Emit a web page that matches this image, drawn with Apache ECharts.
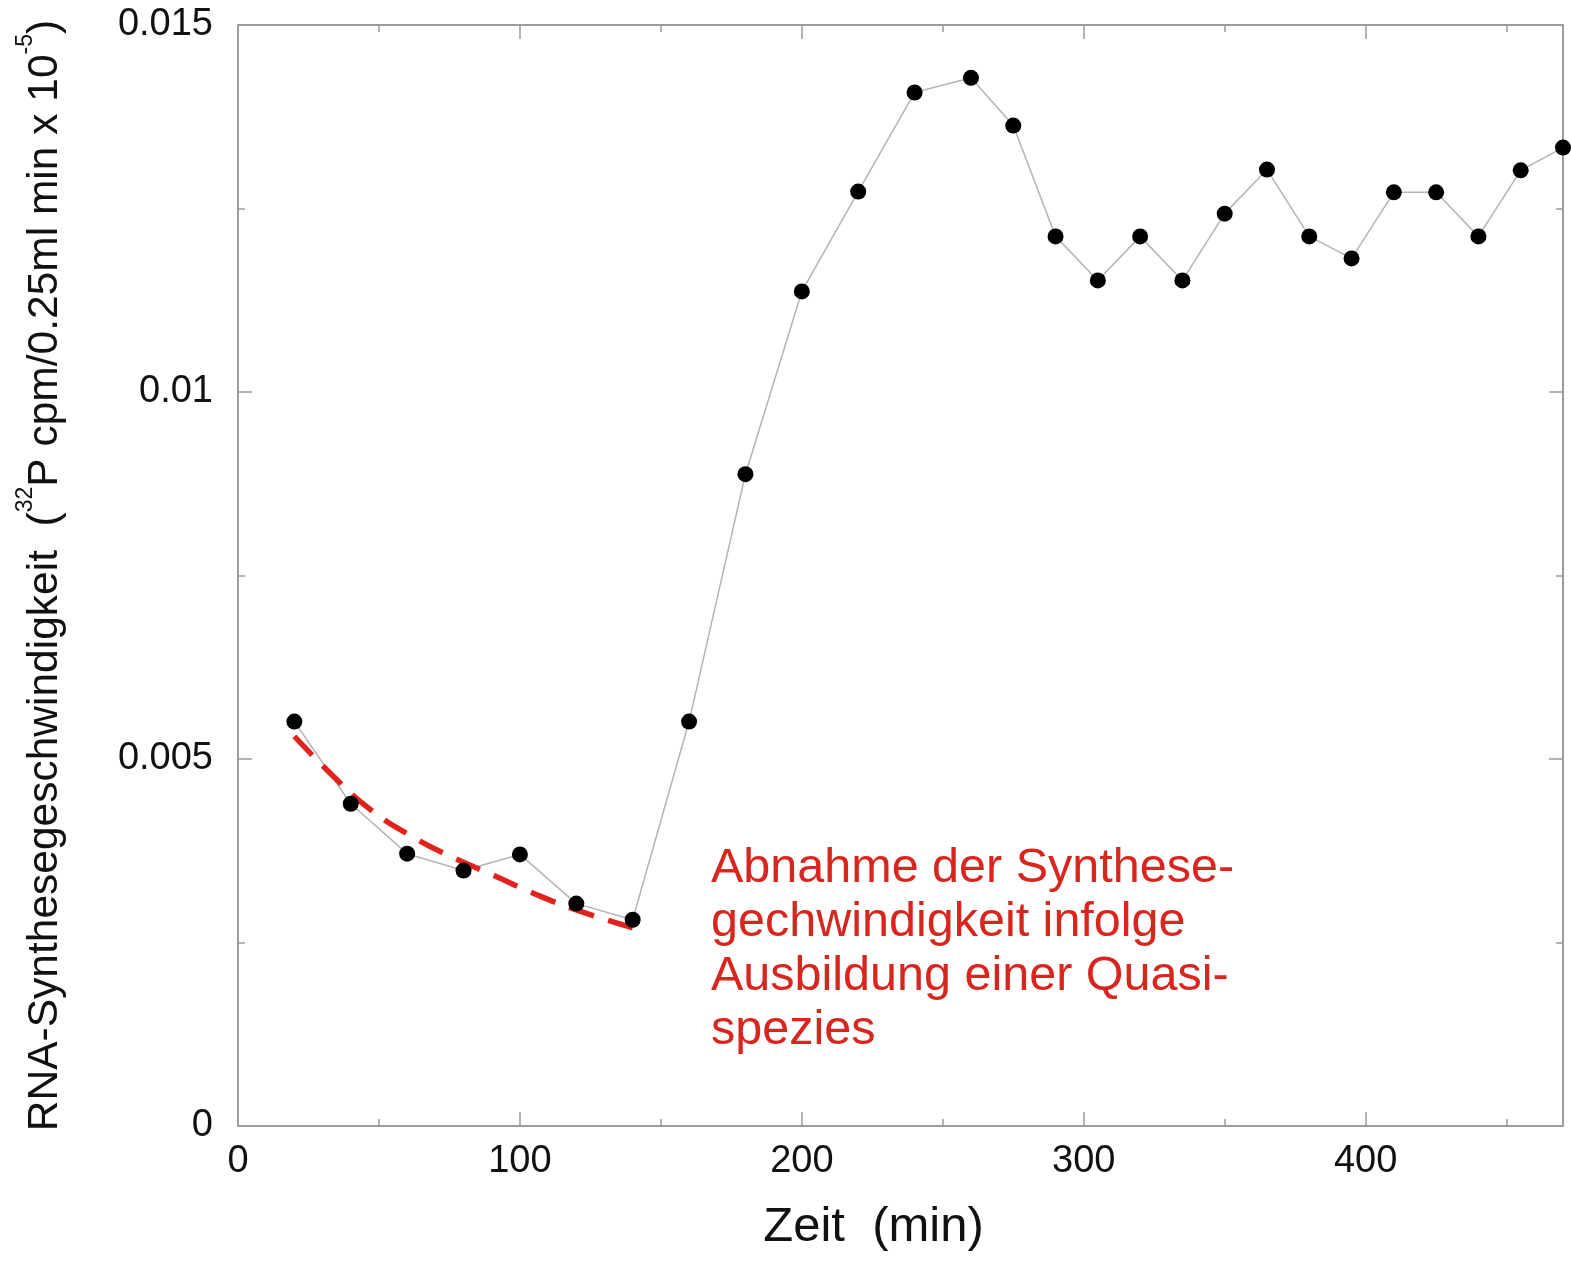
<!DOCTYPE html>
<html>
<head>
<meta charset="utf-8">
<title>RNA-Synthesegeschwindigkeit</title>
<script src="https://cdn.jsdelivr.net/npm/echarts@6/dist/echarts.min.js"></script>
<style>
  html, body { margin: 0; padding: 0; background: #ffffff; }
  #chart { width: 1571px; height: 1263px; }
</style>
</head>
<body>
<div id="chart"></div>
<script>
// Measured synthesis rate over time
const timeMin = [20, 40, 60, 80, 100, 120, 140, 160, 180, 200, 220, 240, 260, 275,
                 290, 305, 320, 335, 350, 365, 380, 395, 410, 425, 440, 455, 470];
const rate = [0.00551, 0.00439, 0.00371, 0.00348, 0.00370, 0.00303, 0.00281, 0.00551,
              0.00888, 0.01137, 0.01273, 0.01408, 0.01428, 0.01363, 0.01212, 0.01152,
              0.01212, 0.01152, 0.01243, 0.01303, 0.01212, 0.01182, 0.01272, 0.01272,
              0.01212, 0.01302, 0.01333];

// Decay trend over the first phase (dashed red curve)
const trendTime = [20, 35, 47, 61, 75, 91, 106, 121, 140];
const trendRate = [0.00531, 0.00472, 0.00431, 0.00396, 0.00368, 0.00341, 0.00315, 0.00293, 0.00270];

// Axis ticks
const xTicks = [0, 100, 200, 300, 400];
const yTicks = [0, 0.005, 0.01, 0.015];

const xName = 'Zeit  (min)';
const yName = 'RNA-Synthesegeschwindigkeit  ({sup|32}P cpm/0.25ml min x 10{sup|-5})';
const noteText = 'Abnahme der Synthese-\ngechwindigkeit infolge\nAusbildung einer Quasi-\nspezies';

const FONT = '"Liberation Sans", Arial, Helvetica, sans-serif';
const AXIS_GREY = '#9c9c9c';
const NOTE_RED = '#d8261e';

const mainPts = timeMin.map((t, i) => [t, rate[i]]);
const trendPts = trendTime.map((t, i) => [t, trendRate[i]]);

const xMin = xTicks[0];
const xInterval = xTicks[1] - xTicks[0];
const yMin = yTicks[0];
const yInterval = yTicks[1] - yTicks[0];
const yMax = yTicks[yTicks.length - 1];

function xAxisDef(pos, withLabels) {
  return {
    type: 'value',
    position: pos,
    min: xMin,
    max: 470,
    interval: xInterval,
    splitLine: { show: false },
    axisLine: { show: true, onZero: false, lineStyle: { color: AXIS_GREY, width: 2 } },
    axisTick: { show: true, inside: true, length: 14, lineStyle: { color: AXIS_GREY, width: 1.5 } },
    minorTick: { show: true, splitNumber: 2, length: 7, lineStyle: { color: AXIS_GREY, width: 1.5 } },
    axisLabel: {
      show: withLabels,
      margin: 17,
      fontSize: 38,
      fontFamily: FONT,
      color: '#111111',
      formatter: v => (xTicks.indexOf(v) >= 0 ? String(v) : '')
    }
  };
}

function yAxisDef(pos, withLabels) {
  return {
    type: 'value',
    position: pos,
    min: yMin,
    max: yMax,
    interval: yInterval,
    splitLine: { show: false },
    axisLine: { show: true, onZero: false, lineStyle: { color: AXIS_GREY, width: 2 } },
    axisTick: { show: true, inside: true, length: 14, lineStyle: { color: AXIS_GREY, width: 1.5 } },
    minorTick: { show: true, splitNumber: 2, length: 7, lineStyle: { color: AXIS_GREY, width: 1.5 } },
    axisLabel: {
      show: withLabels,
      margin: 25,
      fontSize: 38,
      fontFamily: FONT,
      color: '#111111'
    }
  };
}

const xBottom = xAxisDef('bottom', true);
xBottom.name = xName;
xBottom.nameLocation = 'middle';
xBottom.nameGap = 77;
xBottom.nameTextStyle = { fontSize: 49, fontFamily: FONT, color: '#111111', padding: [0, 54, 0, 0] };

const yLeft = yAxisDef('left', true);
yLeft.name = yName;
yLeft.nameLocation = 'middle';
yLeft.nameRotate = 90;
yLeft.nameGap = 162;
yLeft.nameTextStyle = {
  fontSize: 42.5,
  fontFamily: FONT,
  color: '#111111',
  lineHeight: 62,
  rich: {
    sup: { fontSize: 23, fontFamily: FONT, color: '#111111', lineHeight: 16, verticalAlign: 'top' }
  }
};

const chart = echarts.init(document.getElementById('chart'), null, { renderer: 'canvas' });

chart.setOption({
  animation: false,
  backgroundColor: '#ffffff',
  grid: { left: 238, right: 8, top: 25, bottom: 137, containLabel: false, outerBoundsMode: 'none' },
  xAxis: [xBottom, xAxisDef('top', false)],
  yAxis: [yLeft, yAxisDef('right', false)],
  graphic: [{
    type: 'text',
    left: 711,
    top: 842,
    style: {
      text: noteText,
      fill: NOTE_RED,
      font: '48.5px ' + FONT,
      lineHeight: 54
    }
  }],
  series: [
    {
      name: 'Verlauf',
      type: 'line',
      data: mainPts,
      showSymbol: false,
      symbol: 'none',
      lineStyle: { color: '#b4b4b4', width: 1.5 },
      z: 2,
      clip: false
    },
    {
      name: 'Abnahme',
      type: 'line',
      data: trendPts,
      smooth: 0.5,
      symbol: 'none',
      lineStyle: { color: '#e0241d', width: 5.5, type: [26, 15] },
      z: 3,
      clip: false
    },
    {
      name: 'Messwerte',
      type: 'scatter',
      data: mainPts,
      symbol: 'circle',
      symbolSize: 16,
      itemStyle: { color: '#000000', opacity: 1 },
      z: 4,
      clip: false
    }
  ]
});
</script>
</body>
</html>
